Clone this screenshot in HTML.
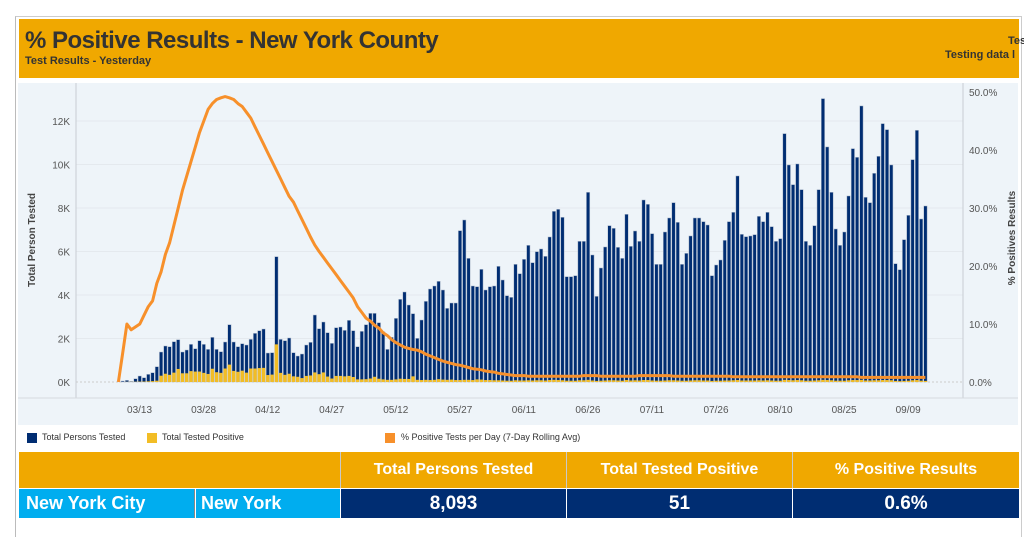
<!DOCTYPE html>
<html><head><meta charset="utf-8"><style>
body{margin:0;width:1024px;height:529px;background:#fff;font-family:"Liberation Sans",Arial,sans-serif;overflow:hidden;position:relative}
.abs{position:absolute}
</style></head><body>
<div class="abs" style="left:15px;top:16px;width:1005px;height:520px;border-left:1px solid #bbb;border-top:1px solid #ccc;border-right:1px solid #ccc"></div>
<div class="abs" style="left:19px;top:19px;width:1000px;height:59px;background:#f0a800"></div>
<div class="abs" style="left:25px;top:27px;font-size:24px;font-weight:bold;color:#333;letter-spacing:-0.5px">% Positive Results - New York County</div>
<div class="abs" style="left:25px;top:55px;font-size:11px;font-weight:bold;color:#333">Test Results - Yesterday</div>
<div class="abs" style="left:1008px;top:35px;font-size:11px;font-weight:bold;color:#333">Tes</div>
<div class="abs" style="left:945px;top:49px;font-size:11px;font-weight:bold;color:#333;white-space:nowrap">Testing data l</div>

<svg class="abs" style="left:0;top:0" width="1024" height="529">
<rect x="18" y="83" width="1000" height="342" fill="#eef4f9"/>
<g id="grid"></g>
<line x1="76" y1="83" x2="76" y2="398" stroke="#c8cdd2"/>
<line x1="963" y1="83" x2="963" y2="398" stroke="#c8cdd2"/>
<line x1="18" y1="398" x2="1018" y2="398" stroke="#d5dade"/>
<g id="bars"></g><g id="pos"></g>
<path id="line" fill="none" stroke="#f7902b" stroke-width="3" stroke-linejoin="round"/>
<g id="ticks" font-size="10" fill="#555"></g>
<text transform="translate(35,240) rotate(-90)" text-anchor="middle" font-size="10" font-weight="bold" fill="#444">Total Person Tested</text>
<text transform="translate(1015,238) rotate(-90)" text-anchor="middle" font-size="10" font-weight="bold" fill="#444">% Positives Results</text>
</svg>

<div class="abs" style="left:0;top:432px;font-size:9px;color:#333">
<div class="abs" style="left:27px;top:0;white-space:nowrap"><span style="display:inline-block;width:10px;height:10px;background:#002d72;vertical-align:middle;margin-right:5px"></span>Total Persons Tested</div>
<div class="abs" style="left:147px;top:0;white-space:nowrap"><span style="display:inline-block;width:10px;height:10px;background:#f2bd25;vertical-align:middle;margin-right:5px"></span>Total Tested Positive</div>
<div class="abs" style="left:385px;top:0;white-space:nowrap"><span style="display:inline-block;width:10px;height:10px;background:#f7902b;vertical-align:middle;margin-right:6px"></span>% Positive Tests per Day (7-Day Rolling Avg)</div>
</div>

<div class="abs" style="left:19px;top:452px;width:1000px;height:67px;font-weight:bold;color:#fff">
<div class="abs" style="left:0;top:0;width:321px;height:36px;background:#f0a800;border-right:1px solid #c9c9c9"></div>
<div class="abs" style="left:322px;top:0;width:225px;height:36px;background:#f0a800;border-right:1px solid #c9c9c9;font-size:16px;line-height:36px;text-align:center">Total Persons Tested</div>
<div class="abs" style="left:548px;top:0;width:225px;height:36px;background:#f0a800;border-right:1px solid #c9c9c9;font-size:16px;line-height:36px;text-align:center">Total Tested Positive</div>
<div class="abs" style="left:774px;top:0;width:226px;height:36px;background:#f0a800;font-size:16px;line-height:36px;text-align:center">% Positive Results</div>
<div class="abs" style="left:0;top:37px;width:176px;height:29px;background:#00adef;border-right:1px solid #888;font-size:18px;line-height:29px;padding-left:7px;box-sizing:border-box">New York City</div>
<div class="abs" style="left:177px;top:37px;width:144px;height:29px;background:#00adef;font-size:18px;line-height:29px;padding-left:5px;box-sizing:border-box">New York</div>
<div class="abs" style="left:322px;top:37px;width:225px;height:29px;background:#002d72;font-size:19px;line-height:29px;text-align:center">8,093</div>
<div class="abs" style="left:548px;top:37px;width:225px;height:29px;background:#002d72;font-size:19px;line-height:29px;text-align:center">51</div>
<div class="abs" style="left:774px;top:37px;width:226px;height:29px;background:#002d72;font-size:19px;line-height:29px;text-align:center">0.6%</div>
</div>

<script>
const tested = [0,46,77,31,153,276,199,353,429,705,1380,1656,1625,1855,1947,1380,1472,1732,1533,1901,1732,1502,2054,1502,1395,1840,2637,1840,1625,1763,1702,1962,2238,2361,2437,1334,1349,5764,1962,1901,2024,1349,1196,
1288,1702,1824,3081,2453,2759,2269,1778,2499,2529,2376,2836,2361,1625,2330,2637,3158,3158,2729,2315,1502,2054,2928,3802,4139,3541,3143,2008,2851,3710,4277,4415,4630,4231,3388,3633,3633,6960,7450,5687,4415,4384,5181,4231,4384,4415,5319,
4691,3970,3894,5411,4982,5641,6285,5488,5994,6117,5779,6669,7849,7941,7573,4844,4844,4890,6469,6469,
8723,5841,3940,5243,6209,7190,7067,6193,5687,7711,6239,6944,6469,8370,8171,6822,5411,5411,6898,7542,
8247,7343,5411,5917,6715,7542,7542,7374,7220,4890,5381,5611,6515,7374,7803,9474,6791,6684,6715,6776,
7619,7374,7803,7144,6469,6592,11421,9980,9075,10026,8845,6469,6285,7190,8845,13031,10808,8723,7036,6285,
6898,8554,10731,10332,12693,8493,8247,9597,10378,11881,11604,9980,5442,5166,6546,7665,10225,11574,7496,8093];
const positive = [0,0,5,5,10,15,20,30,40,60,290,380,330,430,600,400,400,500,480,480,420,370,610,450,420,620,800,510,470,520,430,620,620,640,650,320,340,1730,420,330,380,260,240,
180,280,300,440,360,440,250,160,280,280,260,280,230,120,120,130,160,240,150,120,100,100,120,150,140,140,260,100,90,100,90,100,130,110,100,110,90,90,100,100,90,120,110,90,90,80,80,
70,60,60,80,70,70,80,70,80,80,70,90,100,90,80,60,60,60,80,80,100,70,50,60,70,80,80,70,60,90,70,80,70,90,90,70,60,60,70,80,
80,70,60,60,70,80,80,70,70,50,60,60,70,70,80,90,70,70,70,70,80,70,80,70,60,60,100,90,80,90,80,60,60,70,80,100,90,80,60,60,
60,80,90,90,100,70,70,80,80,90,90,80,50,40,50,60,80,90,60,51];
const pct = [0,5,10,9,9.5,10,11.5,13,14,17,19,22,24,27,30,33,35.5,38,40.5,43,45,47,48,48.7,49,49.2,49,48.7,48,47.5,46.5,45.5,44,42.5,41,39.5,38,36.5,35,33.5,32,31,29.5,28,26.5,25,23.6,22.5,21.5,20.5,19.5,18.5,17.5,16.5,15.5,14.5,13,12,11,10.5,9.8,9.3,8.5,8,7.3,6.8,6.4,6,5.8,5.6,5.5,5.2,4.8,4.5,4.2,3.9,3.6,3.4,3.2,3,2.9,2.7,2.5,2.3,2.2,2.1,1.9,1.8,1.7,1.5,1.4,1.3,1.2,1.1,1.1,1.1,1,1,1,1,1,1,1,1,1,1,1,1,1,1.1,1.1,1.1,1.1,1,1,1,1,1,1,1,1,1,1.1,1.1,1.1,1.1,1.1,1.1,1.1,1.1,1,1,1,1,1,1,1,1,1,1,1,1,1,1,0.9,0.9,0.9,0.9,0.9,0.9,0.9,0.9,0.9,0.9,0.9,0.9,0.9,0.9,0.9,0.9,0.9,0.9,0.9,0.9,0.9,0.9,0.9,0.9,0.9,0.9,0.9,0.9,0.9,0.9,0.8,0.8,0.8,0.8,0.8,0.8,0.8,0.8,0.8,0.8,0.8,0.8,0.8,0.8,0.8,0.8,0.8,0.8,0.8];
const yTicks = [0,2000,4000,6000,8000,10000,12000];
const yTickLabels = ["0K","2K","4K","6K","8K","10K","12K"];
const y2Ticks = [0,10,20,30,40,50];
const y2TickLabels = ["0.0%","10.0%","20.0%","30.0%","40.0%","50.0%"];
const xTickIdx = [5,20,35,50,65,80,95,110,125,140,155,170,185];
const xTickLabels = ["03/13","03/28","04/12","04/27","05/12","05/27","06/11","06/26","07/11","07/26","08/10","08/25","09/09"];

const NS="http://www.w3.org/2000/svg";
const x = i => 116.7 + i*4.27;
const y = v => 382 - v/1000*21.75;
const y2 = p => 382 - p*5.8;
function mk(tag, attrs, parent){const e=document.createElementNS(NS,tag);for(const k in attrs)e.setAttribute(k,attrs[k]);parent.appendChild(e);return e;}
const grid=document.getElementById('grid'),bars=document.getElementById('bars'),pos=document.getElementById('pos'),ticks=document.getElementById('ticks');
yTicks.forEach((v,k)=>{
  const g=mk('line',{x1:76,x2:963,y1:y(v),y2:y(v),stroke:k===0?'#ccc':'#e4e9ee','stroke-dasharray':k===0?'2,2':''},grid);
  
  
  const t=mk('text',{x:70,y:y(v)+4,'text-anchor':'end'},ticks);t.textContent=yTickLabels[k];
  
  
});
y2Ticks.forEach((p,k)=>{
  const t=mk('text',{x:969,y:y2(p)+4},ticks);t.textContent=y2TickLabels[k];
  
  
});
xTickIdx.forEach((i,k)=>{
  const t=mk('text',{x:x(i)+1.5,y:413,'text-anchor':'middle'},ticks);t.textContent=xTickLabels[k];
  
  
});
tested.forEach((v,i)=>{
  const r=mk('rect',{x:x(i),y:y(v),width:3.4,height:382-y(v),fill:'#002d72',stroke:'#b9c3d2','stroke-width':0.5},bars);
  
  
});
positive.forEach((v,i)=>{
  const r=mk('rect',{x:x(i),y:y(v),width:3.4,height:382-y(v),fill:'#f2bd25'},pos);
  
  
});
document.getElementById('line').setAttribute('d',pct.slice(0,tested.length).map((p,i)=>(i?'L':'M')+(x(i)+1.7).toFixed(1)+','+y2(p).toFixed(1)).join(''));
</script>
</body></html>
